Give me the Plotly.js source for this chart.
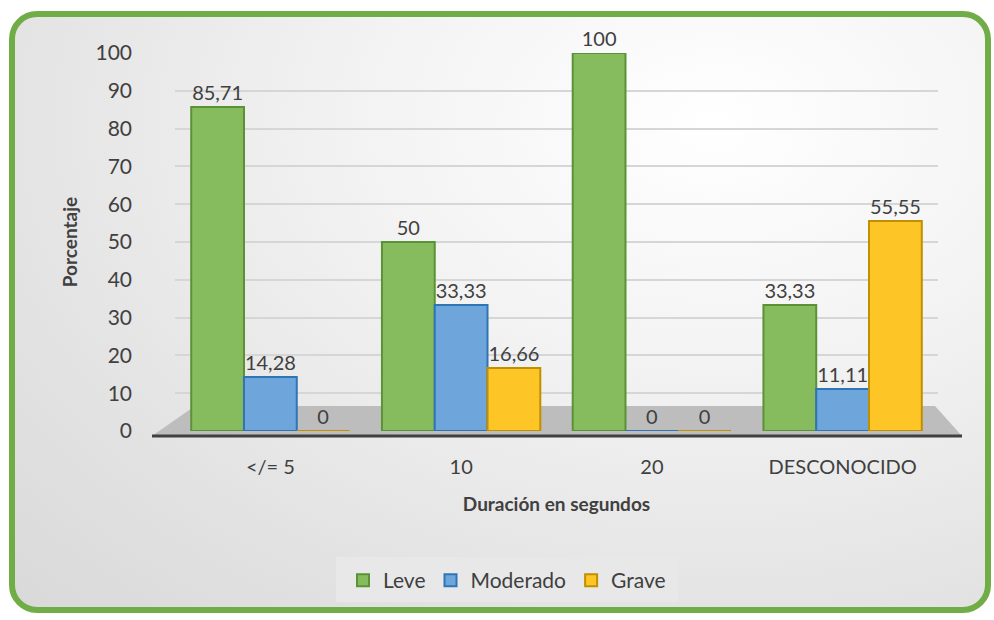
<!DOCTYPE html>
<html>
<head>
<meta charset="utf-8">
<script src="https://cdn.plot.ly/plotly-3.0.1.min.js"></script>
<style>
html,body{margin:0;padding:0;background:#ffffff;width:994px;height:620px;overflow:hidden;}
#frame{position:absolute;left:9px;top:11px;width:970px;height:590px;border:6px solid #70ad47;border-radius:28px;
background:radial-gradient(ellipse at 72% 18%, #ffffff 0%, #f3f3f3 35%, #e2e2e2 75%, #d9d9d9 100%);}
#chart{position:absolute;left:0;top:0;width:994px;height:620px;}
</style>
</head>
<body>
<div id="frame"></div>
<div id="chart"></div>
<script>
const categories = ['</= 5', '10', '20', 'DESCONOCIDO'];
const leve = [85.71, 50, 100, 33.33];
const moderado = [14.28, 33.33, 0, 11.11];
const grave = [0, 16.66, 0, 55.55];
const yTicks = [0, 10, 20, 30, 40, 50, 60, 70, 80, 90, 100];

const fmt = v => String(v).replace('.', ',');
const font = 'Lato, Open Sans, DejaVu Sans, sans-serif';

function series(name, vals, fill, line) {
  return {
    type: 'bar', name: name, x: categories, y: vals,
    text: vals.map(fmt), textposition: 'outside', cliponaxis: false,
    textfont: {family: font, size: 20, color: '#404040'},
    marker: {color: fill, line: {color: line, width: 2}},
    hoverinfo: 'x+y'
  };
}

const data = [
  series('Leve', leve, '#86bc5e', '#5b9236'),
  series('Moderado', moderado, '#6ea6dc', '#2e75b6'),
  series('Grave', grave, '#fdc626', '#c09000')
];

const L = 175, R = 938, T = 53, B = 431;
const px = x => (x - L) / (R - L);
const py = y => (B - y) / (B - T);

const layout = {
  width: 994, height: 620,
  margin: {l: L, r: 994 - R, t: T, b: 620 - B},
  paper_bgcolor: 'rgba(0,0,0,0)', plot_bgcolor: 'rgba(0,0,0,0)',
  barmode: 'group', bargap: 0.17, bargroupgap: 0,
  font: {family: font, color: '#404040'},
  showlegend: true,
  legend: {orientation: 'h', x: px(507), xanchor: 'center', y: py(560), yanchor: 'top',
    bgcolor: 'rgba(0,0,0,0)', borderwidth: 0, font: {family: font, size: 21, color: '#404040'},
    itemwidth: 30, traceorder: 'normal'},
  xaxis: {
    type: 'category', showgrid: false, zeroline: false, showline: false,
    ticks: '', tickfont: {family: font, size: 20, color: '#404040'},
    ticklabelstandoff: 22,
    title: {text: '<b>Duración en segundos</b>', font: {family: font, size: 19, color: '#404040'}, standoff: 20}
  },
  yaxis: {
    range: [0, 100], tickvals: yTicks, showgrid: true, gridcolor: '#d6d6d6', gridwidth: 2,
    zeroline: false, showline: false, ticks: '',
    tickfont: {family: font, size: 21, color: '#404040'},
    ticklabelstandoff: 42,
    title: {text: '<b>Porcentaje</b>', font: {family: font, size: 19, color: '#404040'}, standoff: 12}
  },
  shapes: [
    {type: 'rect', xref: 'paper', yref: 'paper', layer: 'below',
     x0: px(336), x1: px(678), y0: py(557), y1: py(602),
     fillcolor: '#e8e8e8', line: {width: 0}},
    {type: 'path', xref: 'paper', yref: 'paper', layer: 'below',
     path: `M ${px(152)} ${py(436)} L ${px(962)} ${py(436)} L ${px(935)} ${py(406)} L ${px(195)} ${py(406)} Z`,
     fillcolor: '#bdbdbd', line: {width: 0}},
    {type: 'line', xref: 'paper', yref: 'paper', layer: 'above',
     x0: px(152), x1: px(962), y0: py(436), y1: py(436), line: {color: '#404040', width: 3}}
  ]
};

Plotly.newPlot('chart', data, layout, {staticPlot: true});
</script>
</body>
</html>
